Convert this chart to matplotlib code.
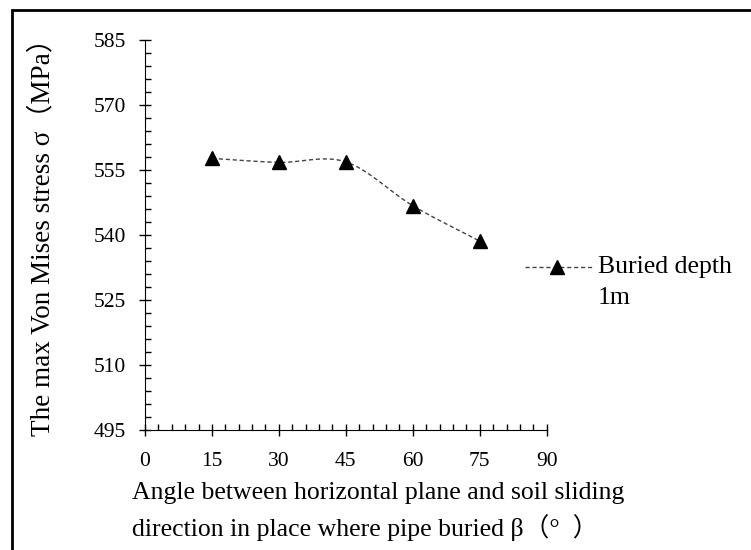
import numpy as np
import matplotlib
matplotlib.use("Agg")
import matplotlib.pyplot as plt
from matplotlib.ticker import MultipleLocator
from matplotlib.lines import Line2D

plt.rcParams['font.family'] = ['Liberation Serif', 'Noto Sans CJK SC']

angles = [15, 30, 45, 60, 75]
stress = [557.7, 556.8, 556.9, 546.8, 538.6]
legend_lines = ["Buried depth", "1m"]
x_label_lines = ["Angle between horizontal plane and soil sliding",
                 "direction in place where pipe buried β（°  ）"]
y_label = "The max Von Mises stress σ（MPa）"


def smooth(xs, ys, n=30):
    # catmull-rom style smoothing like the office "smoothed line"
    xs = np.asarray(xs, float)
    ys = np.asarray(ys, float)
    px = np.concatenate([[2 * xs[0] - xs[1]], xs, [2 * xs[-1] - xs[-2]]])
    py = np.concatenate([[2 * ys[0] - ys[1]], ys, [2 * ys[-1] - ys[-2]]])
    outx, outy = [], []
    t = np.linspace(0, 1, n)
    for i in range(1, len(px) - 2):
        for p, o in ((px, outx), (py, outy)):
            p0, p1, p2, p3 = p[i - 1], p[i], p[i + 1], p[i + 2]
            o.extend(0.5 * (2 * p1 + (-p0 + p2) * t
                            + (2 * p0 - 5 * p1 + 4 * p2 - p3) * t ** 2
                            + (-p0 + 3 * p1 - 3 * p2 + p3) * t ** 3))
    return outx, outy


fig = plt.figure(figsize=(7.51, 5.5), dpi=100)
ax = fig.add_axes([0.193, 0.218, 0.535, 0.709])

sx, sy = smooth(angles, stress)
ax.plot(sx, sy, color="#444444", linestyle=(0, (3, 2)), linewidth=1.0)
ax.plot(angles, stress, linestyle="none", marker="^", markersize=10.5, color="black")

ax.set_xlim(0, 90)
ax.set_ylim(495, 585)
ax.xaxis.set_major_locator(MultipleLocator(15))
ax.xaxis.set_minor_locator(MultipleLocator(3))
ax.yaxis.set_major_locator(MultipleLocator(15))
ax.yaxis.set_minor_locator(MultipleLocator(3))
for s in ["top", "right"]:
    ax.spines[s].set_visible(False)
ax.tick_params(which="major", direction="inout", length=9, width=1, labelsize=15.5)
ax.tick_params(axis="x", which="major", pad=11)
ax.tick_params(axis="y", which="major", pad=9)
ax.tick_params(which="minor", direction="in", length=4.5, width=1)

fig.text(0.176, 0.1036, x_label_lines[0], fontsize=18.5, ha="left", va="center")
fig.text(0.176, 0.0418, x_label_lines[1], fontsize=18.5, ha="left", va="center")
fig.text(0.056, 0.58, y_label, fontsize=19.5, rotation=90, ha="center", va="center")

# legend
fig.add_artist(Line2D([0.699, 0.788], [0.5145, 0.5145], color="#444444",
                      linestyle=(0, (3, 2)), linewidth=1.0))
fig.add_artist(Line2D([0.742], [0.5145], marker="^", markersize=10, color="black"))
fig.text(0.796, 0.5145, legend_lines[0], fontsize=18.5, ha="left", va="center")
fig.text(0.796, 0.458, legend_lines[1], fontsize=18.5, ha="left", va="center")

# frame (only left and top edges are inside the picture)
fig.add_artist(Line2D([0.016, 0.016, 1.0], [0.0, 0.982, 0.982], color="black",
                      linewidth=2.0, solid_joinstyle="miter"))

fig.savefig("out.png", dpi=100)
